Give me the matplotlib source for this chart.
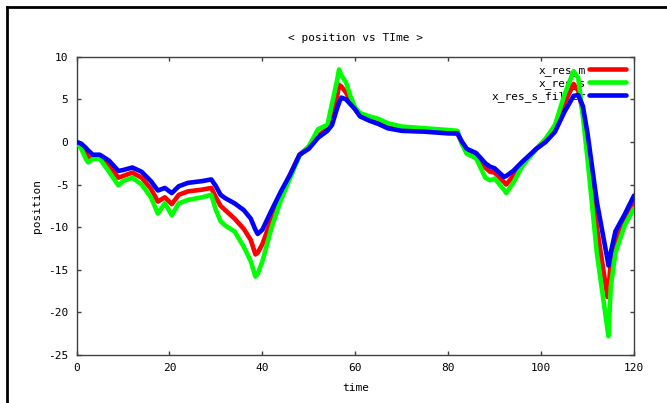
import matplotlib
matplotlib.use('Agg')
import matplotlib.pyplot as plt
from matplotlib.lines import Line2D

# time samples shared by the three traces
time = [0, 1, 2, 2.5, 3.5, 5, 7, 9, 10, 12, 14, 16, 17.5, 19, 20.5, 22, 24, 27, 29,
        30, 31, 32, 34, 36, 37.5, 38.5, 39, 40, 42, 44, 46, 48, 50, 52, 54, 55, 56,
        56.5, 57, 58, 59, 60, 61, 63, 65, 67, 70, 75, 80, 82, 83, 84, 86, 88, 89, 90,
        92, 92.5, 94, 96, 99, 101, 103, 105, 107, 108, 109, 110, 112, 114.3, 114.5,
        115, 116, 118, 120]

x_res_m = [0, -0.5, -1.4, -1.8, -1.9, -1.7, -2.8, -4.2, -4.0, -3.6, -4.2, -5.5, -7.0,
           -6.5, -7.3, -6.2, -5.8, -5.6, -5.4, -6.5, -7.5, -8.0, -9.0, -10.2, -11.5,
           -13.2, -13.0, -12.0, -9.0, -6.2, -3.8, -1.5, -0.6, 0.7, 1.6, 2.5, 5.0, 6.7,
           6.5, 5.8, 4.8, 3.8, 3.1, 2.6, 2.2, 1.7, 1.4, 1.3, 1.1, 1.0, -0.2, -1.0, -1.6,
           -3.0, -3.5, -3.6, -4.7, -5.0, -4.0, -2.6, -0.8, 0.2, 1.5, 4.5, 6.8, 6.0, 3.5,
           -0.5, -10.0, -18.2, -17.5, -14.0, -11.5, -9.0, -7.1]

x_res_s = [0, -0.8, -2.0, -2.4, -2.0, -2.0, -3.5, -5.1, -4.6, -4.2, -5.0, -6.5, -8.4,
           -7.2, -8.6, -7.2, -6.8, -6.5, -6.2, -8.0, -9.3, -9.8, -10.5, -12.3, -14.0,
           -15.8, -15.5, -14.0, -10.0, -6.8, -4.2, -1.6, -0.5, 1.5, 2.0, 4.5, 7.0, 8.5,
           7.8, 7.0, 5.3, 4.0, 3.4, 3.0, 2.7, 2.2, 1.8, 1.6, 1.4, 1.3, -0.3, -1.4, -1.9,
           -4.2, -4.5, -4.3, -5.6, -6.0, -4.8, -2.8, -0.8, 0.4, 2.0, 5.5, 8.3, 7.5, 3.0,
           -2.0, -13.0, -22.0, -22.8, -17.0, -13.0, -9.8, -7.8]

x_res_s_filter = [0, -0.2, -0.7, -1.0, -1.5, -1.5, -2.2, -3.4, -3.3, -3.0, -3.5, -4.6,
                  -5.7, -5.4, -6.0, -5.2, -4.8, -4.6, -4.4, -5.2, -6.2, -6.6, -7.2, -8.0,
                  -9.0, -10.3, -10.8, -10.3, -8.0, -5.8, -3.8, -1.5, -0.8, 0.5, 1.3, 2.0,
                  3.8, 4.6, 5.2, 5.0, 4.4, 3.8, 3.0, 2.5, 2.1, 1.6, 1.3, 1.2, 1.0, 1.0, 0.0,
                  -0.8, -1.3, -2.5, -2.9, -3.1, -4.1, -4.0, -3.4, -2.3, -0.8, 0.0, 1.2, 3.5,
                  5.4, 5.5, 4.2, 1.0, -7.0, -13.8, -14.5, -13.0, -10.5, -8.5, -6.3]

series = [('x_res_m', x_res_m, '#ff0000'),
          ('x_res_s', x_res_s, '#00ff00'),
          ('x_res_s_filter', x_res_s_filter, '#0000ff')]

plt.rcParams['font.family'] = 'DejaVu Sans Mono'
plt.rcParams['axes.unicode_minus'] = False

fig = plt.figure(figsize=(6.67, 4.03), dpi=100)
ax = fig.add_axes([0.1148, 0.1191, 0.8357, 0.7402])

for name, vals, color in series:
    ax.plot(time, vals, color=color, lw=3.3, label=name, zorder=3,
            solid_joinstyle='round', solid_capstyle='round')

ax.set_xlim(0, 120)
ax.set_ylim(-25, 10)
ax.set_xticks(range(0, 121, 20))
ax.set_yticks(range(-25, 11, 5))
ax.tick_params(direction='in', length=3, width=1, color='#404040',
               top=True, right=True, labelsize=8, pad=6)
for sp in ax.spines.values():
    sp.set_color('#404040')
    sp.set_linewidth(1)

ax.set_title('< position vs TIme >', fontsize=8, pad=11)
ax.set_xlabel('time', fontsize=8, labelpad=7)
ax.set_ylabel('position', fontsize=8, labelpad=4)

leg = ax.legend(loc='upper right', frameon=False, markerfirst=False, fontsize=8,
                handlelength=3.3, handletextpad=0.3, labelspacing=0.2,
                borderaxespad=0.35)
leg.set_zorder(1)

# outer frame around the plot window
fig.add_artist(Line2D([0.0105, 0.0105], [0.983, 0.0], transform=fig.transFigure,
                      color='black', lw=2))
fig.add_artist(Line2D([0.0105, 1.0], [0.983, 0.983], transform=fig.transFigure,
                      color='black', lw=2))

fig.savefig('out.png', dpi=100)
